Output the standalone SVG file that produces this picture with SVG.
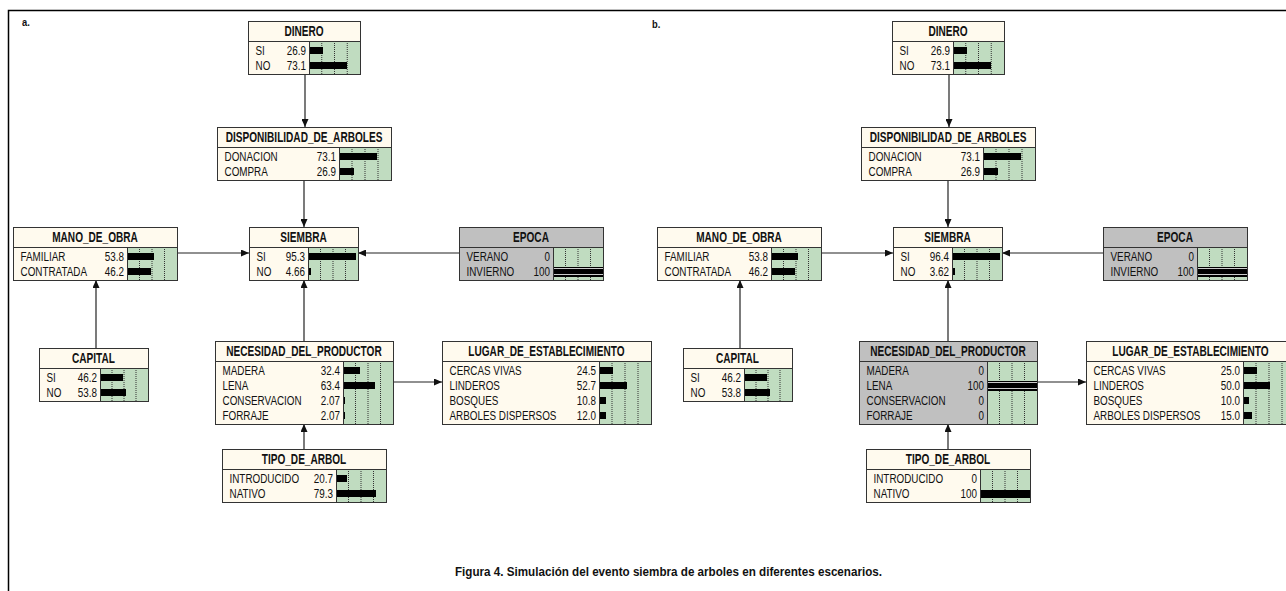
<svg xmlns="http://www.w3.org/2000/svg" width="1286" height="591" viewBox="0 0 1286 591">
<style>
.t{fill:#FFFAEE}
.gr{fill:#C0C0C0}
.bg{fill:#C0DCC0}
.o{fill:none;stroke:#333;stroke-width:1}
.dv{fill:none;stroke:#333;stroke-width:1}
.gd{fill:none;stroke:#333;stroke-width:1;stroke-dasharray:1 1}
.bar{fill:#000}
.wl{fill:none;stroke:#fff;stroke-width:.8}
.ti{font-family:"Liberation Sans",Arial,sans-serif;font-weight:bold;font-size:14px;text-anchor:middle;fill:#111}
.lb{font-family:"Liberation Sans",Arial,sans-serif;font-size:13px;fill:#111}
.vl{font-family:"Liberation Sans",Arial,sans-serif;font-size:13px;text-anchor:end;fill:#111}
.pl{font-family:"Liberation Sans",Arial,sans-serif;font-weight:bold;font-size:11px;fill:#111}
.cap{font-family:"Liberation Sans",Arial,sans-serif;font-weight:bold;font-size:12px;text-anchor:middle;fill:#111}
.cn{fill:none;stroke:#222;stroke-width:1.2;marker-end:url(#ah)}
.fr{fill:none;stroke:#000;stroke-width:1.5}
rect,path.dv,path.o{shape-rendering:crispEdges}
</style>
<defs>
<marker id="ah" markerUnits="userSpaceOnUse" markerWidth="8" markerHeight="7" refX="8" refY="3.5" orient="auto">
<path d="M0,0 L8,3.5 L0,7 z" fill="#111"/>
</marker>
</defs>
<rect width="1286" height="591" fill="#fff"/>
<path class="fr" d="M8.5 591V10.5H1286"/>
<text class="pl" transform="matrix(.85 0 0 1 22 26)">a.</text>
<text class="pl" transform="matrix(.85 0 0 1 652 28)">b.</text>

<!-- ===== Panel a ===== -->
<g id="panel-a">
<g id="a-edges">
<path class="cn" d="M305 74V127"/>
<path class="cn" d="M304 180V227"/>
<path class="cn" d="M177 253H249"/>
<path class="cn" d="M459 253H358"/>
<path class="cn" d="M96 348V280"/>
<path class="cn" d="M304 341V280"/>
<path class="cn" d="M304 449V424"/>
<path class="cn" d="M393 382H442"/>
</g>

<g id="a-dinero">
<rect class="t" x="248" y="21" width="112" height="20"/>
<rect class="t" x="248" y="41" width="61" height="33"/>
<rect class="bg" x="309" y="41" width="51" height="33"/>
<path class="gd" d="M321.75 41V74M334.5 41V74M347.25 41V74"/>
<rect class="bar" x="310" y="47" width="13.45" height="7"/>
<rect class="bar" x="310" y="62" width="36.55" height="7"/>
<path class="dv" d="M248 41H360M309 41V74"/>
<rect class="o" x="248" y="21" width="112" height="53"/>
<text class="ti" transform="matrix(.72 0 0 1 304 36)">DINERO</text>
<text class="lb" transform="matrix(.76 0 0 1 255.5 55)">SI</text>
<text class="vl" transform="matrix(.76 0 0 1 306 55)">26.9</text>
<text class="lb" transform="matrix(.76 0 0 1 255.5 70)">NO</text>
<text class="vl" transform="matrix(.76 0 0 1 306 70)">73.1</text>
</g>

<g id="a-disponibilidad">
<rect class="t" x="217" y="127" width="174" height="20"/>
<rect class="t" x="217" y="147" width="122" height="33"/>
<rect class="bg" x="339" y="147" width="52" height="33"/>
<path class="gd" d="M352 147V180M365 147V180M378 147V180"/>
<rect class="bar" x="340" y="153" width="37.3" height="7"/>
<rect class="bar" x="340" y="168" width="13.7" height="7"/>
<path class="dv" d="M217 147H391M339 147V180"/>
<rect class="o" x="217" y="127" width="174" height="53"/>
<text class="ti" transform="matrix(.72 0 0 1 304 142)">DISPONIBILIDAD_DE_ARBOLES</text>
<text class="lb" transform="matrix(.76 0 0 1 224.5 161)">DONACION</text>
<text class="vl" transform="matrix(.76 0 0 1 336 161)">73.1</text>
<text class="lb" transform="matrix(.76 0 0 1 224.5 176)">COMPRA</text>
<text class="vl" transform="matrix(.76 0 0 1 336 176)">26.9</text>
</g>

<g id="a-siembra">
<rect class="t" x="249" y="227" width="109" height="20"/>
<rect class="t" x="249" y="247" width="59" height="33"/>
<rect class="bg" x="308" y="247" width="50" height="33"/>
<path class="gd" d="M320.5 247V280M333 247V280M345.5 247V280"/>
<rect class="bar" x="309" y="253" width="46.7" height="7"/>
<rect class="bar" x="309" y="268" width="2.3" height="7"/>
<path class="dv" d="M249 247H358M308 247V280"/>
<rect class="o" x="249" y="227" width="109" height="53"/>
<text class="ti" transform="matrix(.72 0 0 1 303.5 242)">SIEMBRA</text>
<text class="lb" transform="matrix(.76 0 0 1 256.5 261)">SI</text>
<text class="vl" transform="matrix(.76 0 0 1 305 261)">95.3</text>
<text class="lb" transform="matrix(.76 0 0 1 256.5 276)">NO</text>
<text class="vl" transform="matrix(.76 0 0 1 305 276)">4.66</text>
</g>

<g id="a-epoca">
<rect class="gr" x="459" y="227" width="144" height="20"/>
<rect class="gr" x="459" y="247" width="94" height="33"/>
<rect class="bg" x="553" y="247" width="50" height="33"/>
<path class="gd" d="M565.5 247V280M578 247V280M590.5 247V280"/>
<rect class="bar" x="554" y="266.5" width="49" height="10"/>
<path class="wl" d="M554 268.5H603M554 274.5H603"/>
<path class="dv" d="M459 247H603M553 247V280"/>
<rect class="o" x="459" y="227" width="144" height="53"/>
<text class="ti" transform="matrix(.72 0 0 1 531 242)">EPOCA</text>
<text class="lb" transform="matrix(.76 0 0 1 466.5 261)">VERANO</text>
<text class="vl" transform="matrix(.76 0 0 1 550 261)">0</text>
<text class="lb" transform="matrix(.76 0 0 1 466.5 276)">INVIERNO</text>
<text class="vl" transform="matrix(.76 0 0 1 550 276)">100</text>
</g>

<g id="a-mano">
<rect class="t" x="13" y="227" width="164" height="20"/>
<rect class="t" x="13" y="247" width="114" height="33"/>
<rect class="bg" x="127" y="247" width="50" height="33"/>
<path class="gd" d="M139.5 247V280M152 247V280M164.5 247V280"/>
<rect class="bar" x="128" y="253" width="26.4" height="7"/>
<rect class="bar" x="128" y="268" width="22.6" height="7"/>
<path class="dv" d="M13 247H177M127 247V280"/>
<rect class="o" x="13" y="227" width="164" height="53"/>
<text class="ti" transform="matrix(.72 0 0 1 95 242)">MANO_DE_OBRA</text>
<text class="lb" transform="matrix(.76 0 0 1 20.5 261)">FAMILIAR</text>
<text class="vl" transform="matrix(.76 0 0 1 124 261)">53.8</text>
<text class="lb" transform="matrix(.76 0 0 1 20.5 276)">CONTRATADA</text>
<text class="vl" transform="matrix(.76 0 0 1 124 276)">46.2</text>
</g>

<g id="a-capital">
<rect class="t" x="39" y="348" width="109" height="20"/>
<rect class="t" x="39" y="368" width="61" height="33"/>
<rect class="bg" x="100" y="368" width="48" height="33"/>
<path class="gd" d="M112 368V401M124 368V401M136 368V401"/>
<rect class="bar" x="101" y="374" width="21.7" height="7"/>
<rect class="bar" x="101" y="389" width="25.3" height="7"/>
<path class="dv" d="M39 368H148M100 368V401"/>
<rect class="o" x="39" y="348" width="109" height="53"/>
<text class="ti" transform="matrix(.72 0 0 1 93.5 363)">CAPITAL</text>
<text class="lb" transform="matrix(.76 0 0 1 46.5 382)">SI</text>
<text class="vl" transform="matrix(.76 0 0 1 97 382)">46.2</text>
<text class="lb" transform="matrix(.76 0 0 1 46.5 397)">NO</text>
<text class="vl" transform="matrix(.76 0 0 1 97 397)">53.8</text>
</g>

<g id="a-necesidad">
<rect class="t" x="215" y="341" width="178" height="20"/>
<rect class="t" x="215" y="361" width="128" height="63"/>
<rect class="bg" x="343" y="361" width="50" height="63"/>
<path class="gd" d="M355.5 361V424M368 361V424M380.5 361V424"/>
<rect class="bar" x="344" y="367" width="15.9" height="7"/>
<rect class="bar" x="344" y="382" width="31.1" height="7"/>
<rect class="bar" x="344" y="397" width="1.2" height="7"/>
<rect class="bar" x="344" y="412" width="1.2" height="7"/>
<path class="dv" d="M215 361H393M343 361V424"/>
<rect class="o" x="215" y="341" width="178" height="83"/>
<text class="ti" transform="matrix(.72 0 0 1 304 356)">NECESIDAD_DEL_PRODUCTOR</text>
<text class="lb" transform="matrix(.76 0 0 1 222.5 375)">MADERA</text>
<text class="vl" transform="matrix(.76 0 0 1 340 375)">32.4</text>
<text class="lb" transform="matrix(.76 0 0 1 222.5 390)">LENA</text>
<text class="vl" transform="matrix(.76 0 0 1 340 390)">63.4</text>
<text class="lb" transform="matrix(.76 0 0 1 222.5 405)">CONSERVACION</text>
<text class="vl" transform="matrix(.76 0 0 1 340 405)">2.07</text>
<text class="lb" transform="matrix(.76 0 0 1 222.5 420)">FORRAJE</text>
<text class="vl" transform="matrix(.76 0 0 1 340 420)">2.07</text>
</g>

<g id="a-tipo">
<rect class="t" x="222" y="449" width="164" height="20"/>
<rect class="t" x="222" y="469" width="114" height="33"/>
<rect class="bg" x="336" y="469" width="50" height="33"/>
<path class="gd" d="M348.5 469V502M361 469V502M373.5 469V502"/>
<rect class="bar" x="337" y="475" width="10.1" height="7"/>
<rect class="bar" x="337" y="490" width="38.9" height="7"/>
<path class="dv" d="M222 469H386M336 469V502"/>
<rect class="o" x="222" y="449" width="164" height="53"/>
<text class="ti" transform="matrix(.72 0 0 1 304 464)">TIPO_DE_ARBOL</text>
<text class="lb" transform="matrix(.76 0 0 1 229.5 483)">INTRODUCIDO</text>
<text class="vl" transform="matrix(.76 0 0 1 333 483)">20.7</text>
<text class="lb" transform="matrix(.76 0 0 1 229.5 498)">NATIVO</text>
<text class="vl" transform="matrix(.76 0 0 1 333 498)">79.3</text>
</g>

<g id="a-lugar">
<rect class="t" x="442" y="341" width="209" height="20"/>
<rect class="t" x="442" y="361" width="157" height="63"/>
<rect class="bg" x="599" y="361" width="52" height="63"/>
<path class="gd" d="M612 361V424M625 361V424M638 361V424"/>
<rect class="bar" x="600" y="367" width="12.5" height="7"/>
<rect class="bar" x="600" y="382" width="26.9" height="7"/>
<rect class="bar" x="600" y="397" width="5.5" height="7"/>
<rect class="bar" x="600" y="412" width="6.1" height="7"/>
<path class="dv" d="M442 361H651M599 361V424"/>
<rect class="o" x="442" y="341" width="209" height="83"/>
<text class="ti" transform="matrix(.72 0 0 1 546.5 356)">LUGAR_DE_ESTABLECIMIENTO</text>
<text class="lb" transform="matrix(.76 0 0 1 449.5 375)">CERCAS VIVAS</text>
<text class="vl" transform="matrix(.76 0 0 1 596 375)">24.5</text>
<text class="lb" transform="matrix(.76 0 0 1 449.5 390)">LINDEROS</text>
<text class="vl" transform="matrix(.76 0 0 1 596 390)">52.7</text>
<text class="lb" transform="matrix(.76 0 0 1 449.5 405)">BOSQUES</text>
<text class="vl" transform="matrix(.76 0 0 1 596 405)">10.8</text>
<text class="lb" transform="matrix(.76 0 0 1 449.5 420)">ARBOLES DISPERSOS</text>
<text class="vl" transform="matrix(.76 0 0 1 596 420)">12.0</text>
</g>
</g>

<!-- ===== Panel b ===== -->
<g id="panel-b" transform="translate(644 0)">
<g id="b-edges">
<path class="cn" d="M305 74V127"/>
<path class="cn" d="M304 180V227"/>
<path class="cn" d="M177 253H249"/>
<path class="cn" d="M459 253H358"/>
<path class="cn" d="M96 348V280"/>
<path class="cn" d="M304 341V280"/>
<path class="cn" d="M304 449V424"/>
<path class="cn" d="M393 382H442"/>
</g>

<g id="b-dinero">
<rect class="t" x="248" y="21" width="112" height="20"/>
<rect class="t" x="248" y="41" width="61" height="33"/>
<rect class="bg" x="309" y="41" width="51" height="33"/>
<path class="gd" d="M321.75 41V74M334.5 41V74M347.25 41V74"/>
<rect class="bar" x="310" y="47" width="13.45" height="7"/>
<rect class="bar" x="310" y="62" width="36.55" height="7"/>
<path class="dv" d="M248 41H360M309 41V74"/>
<rect class="o" x="248" y="21" width="112" height="53"/>
<text class="ti" transform="matrix(.72 0 0 1 304 36)">DINERO</text>
<text class="lb" transform="matrix(.76 0 0 1 255.5 55)">SI</text>
<text class="vl" transform="matrix(.76 0 0 1 306 55)">26.9</text>
<text class="lb" transform="matrix(.76 0 0 1 255.5 70)">NO</text>
<text class="vl" transform="matrix(.76 0 0 1 306 70)">73.1</text>
</g>

<g id="b-disponibilidad">
<rect class="t" x="217" y="127" width="174" height="20"/>
<rect class="t" x="217" y="147" width="122" height="33"/>
<rect class="bg" x="339" y="147" width="52" height="33"/>
<path class="gd" d="M352 147V180M365 147V180M378 147V180"/>
<rect class="bar" x="340" y="153" width="37.3" height="7"/>
<rect class="bar" x="340" y="168" width="13.7" height="7"/>
<path class="dv" d="M217 147H391M339 147V180"/>
<rect class="o" x="217" y="127" width="174" height="53"/>
<text class="ti" transform="matrix(.72 0 0 1 304 142)">DISPONIBILIDAD_DE_ARBOLES</text>
<text class="lb" transform="matrix(.76 0 0 1 224.5 161)">DONACION</text>
<text class="vl" transform="matrix(.76 0 0 1 336 161)">73.1</text>
<text class="lb" transform="matrix(.76 0 0 1 224.5 176)">COMPRA</text>
<text class="vl" transform="matrix(.76 0 0 1 336 176)">26.9</text>
</g>

<g id="b-siembra">
<rect class="t" x="249" y="227" width="109" height="20"/>
<rect class="t" x="249" y="247" width="59" height="33"/>
<rect class="bg" x="308" y="247" width="50" height="33"/>
<path class="gd" d="M320.5 247V280M333 247V280M345.5 247V280"/>
<rect class="bar" x="309" y="253" width="47.2" height="7"/>
<rect class="bar" x="309" y="268" width="1.8" height="7"/>
<path class="dv" d="M249 247H358M308 247V280"/>
<rect class="o" x="249" y="227" width="109" height="53"/>
<text class="ti" transform="matrix(.72 0 0 1 303.5 242)">SIEMBRA</text>
<text class="lb" transform="matrix(.76 0 0 1 256.5 261)">SI</text>
<text class="vl" transform="matrix(.76 0 0 1 305 261)">96.4</text>
<text class="lb" transform="matrix(.76 0 0 1 256.5 276)">NO</text>
<text class="vl" transform="matrix(.76 0 0 1 305 276)">3.62</text>
</g>

<g id="b-epoca">
<rect class="gr" x="459" y="227" width="144" height="20"/>
<rect class="gr" x="459" y="247" width="94" height="33"/>
<rect class="bg" x="553" y="247" width="50" height="33"/>
<path class="gd" d="M565.5 247V280M578 247V280M590.5 247V280"/>
<rect class="bar" x="554" y="266.5" width="49" height="10"/>
<path class="wl" d="M554 268.5H603M554 274.5H603"/>
<path class="dv" d="M459 247H603M553 247V280"/>
<rect class="o" x="459" y="227" width="144" height="53"/>
<text class="ti" transform="matrix(.72 0 0 1 531 242)">EPOCA</text>
<text class="lb" transform="matrix(.76 0 0 1 466.5 261)">VERANO</text>
<text class="vl" transform="matrix(.76 0 0 1 550 261)">0</text>
<text class="lb" transform="matrix(.76 0 0 1 466.5 276)">INVIERNO</text>
<text class="vl" transform="matrix(.76 0 0 1 550 276)">100</text>
</g>

<g id="b-mano">
<rect class="t" x="13" y="227" width="164" height="20"/>
<rect class="t" x="13" y="247" width="114" height="33"/>
<rect class="bg" x="127" y="247" width="50" height="33"/>
<path class="gd" d="M139.5 247V280M152 247V280M164.5 247V280"/>
<rect class="bar" x="128" y="253" width="26.4" height="7"/>
<rect class="bar" x="128" y="268" width="22.6" height="7"/>
<path class="dv" d="M13 247H177M127 247V280"/>
<rect class="o" x="13" y="227" width="164" height="53"/>
<text class="ti" transform="matrix(.72 0 0 1 95 242)">MANO_DE_OBRA</text>
<text class="lb" transform="matrix(.76 0 0 1 20.5 261)">FAMILIAR</text>
<text class="vl" transform="matrix(.76 0 0 1 124 261)">53.8</text>
<text class="lb" transform="matrix(.76 0 0 1 20.5 276)">CONTRATADA</text>
<text class="vl" transform="matrix(.76 0 0 1 124 276)">46.2</text>
</g>

<g id="b-capital">
<rect class="t" x="39" y="348" width="109" height="20"/>
<rect class="t" x="39" y="368" width="61" height="33"/>
<rect class="bg" x="100" y="368" width="48" height="33"/>
<path class="gd" d="M112 368V401M124 368V401M136 368V401"/>
<rect class="bar" x="101" y="374" width="21.7" height="7"/>
<rect class="bar" x="101" y="389" width="25.3" height="7"/>
<path class="dv" d="M39 368H148M100 368V401"/>
<rect class="o" x="39" y="348" width="109" height="53"/>
<text class="ti" transform="matrix(.72 0 0 1 93.5 363)">CAPITAL</text>
<text class="lb" transform="matrix(.76 0 0 1 46.5 382)">SI</text>
<text class="vl" transform="matrix(.76 0 0 1 97 382)">46.2</text>
<text class="lb" transform="matrix(.76 0 0 1 46.5 397)">NO</text>
<text class="vl" transform="matrix(.76 0 0 1 97 397)">53.8</text>
</g>

<g id="b-necesidad">
<rect class="gr" x="215" y="341" width="178" height="20"/>
<rect class="gr" x="215" y="361" width="128" height="63"/>
<rect class="bg" x="343" y="361" width="50" height="63"/>
<path class="gd" d="M355.5 361V424M368 361V424M380.5 361V424"/>
<rect class="bar" x="344" y="380.5" width="49" height="10"/>
<path class="wl" d="M344 382.5H393M344 388.5H393"/>
<path class="dv" d="M215 361H393M343 361V424"/>
<rect class="o" x="215" y="341" width="178" height="83"/>
<text class="ti" transform="matrix(.72 0 0 1 304 356)">NECESIDAD_DEL_PRODUCTOR</text>
<text class="lb" transform="matrix(.76 0 0 1 222.5 375)">MADERA</text>
<text class="vl" transform="matrix(.76 0 0 1 340 375)">0</text>
<text class="lb" transform="matrix(.76 0 0 1 222.5 390)">LENA</text>
<text class="vl" transform="matrix(.76 0 0 1 340 390)">100</text>
<text class="lb" transform="matrix(.76 0 0 1 222.5 405)">CONSERVACION</text>
<text class="vl" transform="matrix(.76 0 0 1 340 405)">0</text>
<text class="lb" transform="matrix(.76 0 0 1 222.5 420)">FORRAJE</text>
<text class="vl" transform="matrix(.76 0 0 1 340 420)">0</text>
</g>

<g id="b-tipo">
<rect class="t" x="222" y="449" width="164" height="20"/>
<rect class="t" x="222" y="469" width="114" height="33"/>
<rect class="bg" x="336" y="469" width="50" height="33"/>
<path class="gd" d="M348.5 469V502M361 469V502M373.5 469V502"/>
<rect class="bar" x="337" y="489.5" width="49" height="8"/>
<path class="dv" d="M222 469H386M336 469V502"/>
<rect class="o" x="222" y="449" width="164" height="53"/>
<text class="ti" transform="matrix(.72 0 0 1 304 464)">TIPO_DE_ARBOL</text>
<text class="lb" transform="matrix(.76 0 0 1 229.5 483)">INTRODUCIDO</text>
<text class="vl" transform="matrix(.76 0 0 1 333 483)">0</text>
<text class="lb" transform="matrix(.76 0 0 1 229.5 498)">NATIVO</text>
<text class="vl" transform="matrix(.76 0 0 1 333 498)">100</text>
</g>

<g id="b-lugar">
<rect class="t" x="442" y="341" width="209" height="20"/>
<rect class="t" x="442" y="361" width="157" height="63"/>
<rect class="bg" x="599" y="361" width="52" height="63"/>
<path class="gd" d="M612 361V424M625 361V424M638 361V424"/>
<rect class="bar" x="600" y="367" width="12.75" height="7"/>
<rect class="bar" x="600" y="382" width="25.5" height="7"/>
<rect class="bar" x="600" y="397" width="5.1" height="7"/>
<rect class="bar" x="600" y="412" width="7.65" height="7"/>
<path class="dv" d="M442 361H651M599 361V424"/>
<rect class="o" x="442" y="341" width="209" height="83"/>
<text class="ti" transform="matrix(.72 0 0 1 546.5 356)">LUGAR_DE_ESTABLECIMIENTO</text>
<text class="lb" transform="matrix(.76 0 0 1 449.5 375)">CERCAS VIVAS</text>
<text class="vl" transform="matrix(.76 0 0 1 596 375)">25.0</text>
<text class="lb" transform="matrix(.76 0 0 1 449.5 390)">LINDEROS</text>
<text class="vl" transform="matrix(.76 0 0 1 596 390)">50.0</text>
<text class="lb" transform="matrix(.76 0 0 1 449.5 405)">BOSQUES</text>
<text class="vl" transform="matrix(.76 0 0 1 596 405)">10.0</text>
<text class="lb" transform="matrix(.76 0 0 1 449.5 420)">ARBOLES DISPERSOS</text>
<text class="vl" transform="matrix(.76 0 0 1 596 420)">15.0</text>
</g>
</g>

<text class="cap" x="668.5" y="576" textLength="427" lengthAdjust="spacingAndGlyphs">Figura 4. Simulación del evento siembra de arboles en diferentes escenarios.</text>
</svg>
